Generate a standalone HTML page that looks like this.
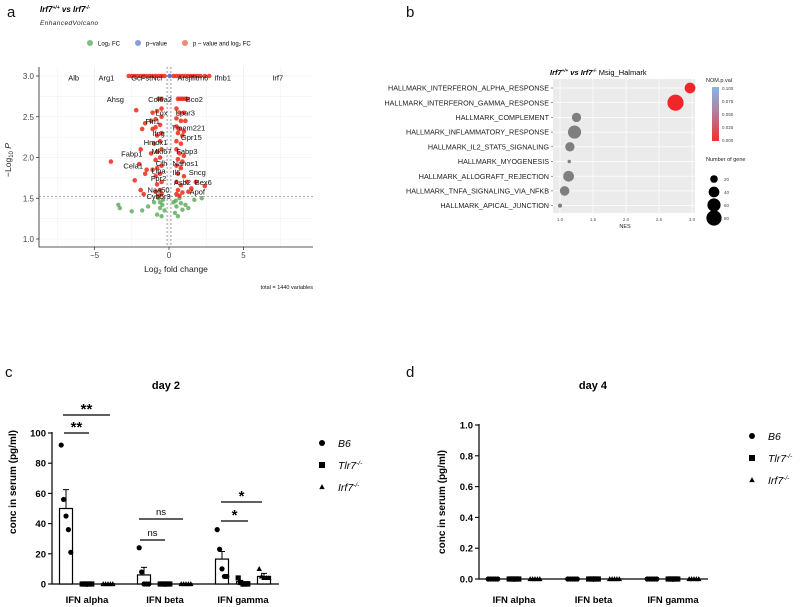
<!DOCTYPE html>
<html><head><meta charset="utf-8"><style>
html,body{margin:0;padding:0;background:#fff}
svg{display:block;font-family:"Liberation Sans",sans-serif}
</style></head><body>
<svg id="fig" width="800" height="607" viewBox="0 0 800 607">
<g id="pa"></g>
<g id="pb"></g>
<g id="pc"></g>
<g id="pd"></g>
</svg>
<script>
// ---------- Panel a data ----------
const volcRed = [
[-2.7,3],[-2.5,3],[-2.3,3],[-2.1,3],[-1.9,3],[-1.7,3],[-1.5,3],[-1.3,3],[-1.1,3],[-0.9,3],[-0.7,3],[-0.5,3],[-0.3,3],
[0.3,3],[0.5,3],[0.7,3],[0.9,3],[1.1,3],[1.3,3],[1.5,3],[1.7,3],[1.9,3],[2.1,3],[2.4,3],[2.7,3],
[0.6,2.72],[0.75,2.72],[0.9,2.72],[1.05,2.72],[1.2,2.72],[-0.5,2.72],[-0.7,2.72],
[-0.5,2.6],[-0.8,2.57],[-1.1,2.55],[0.5,2.6],[0.7,2.55],[1.0,2.55],
[-0.5,2.5],[-0.9,2.47],[-1.2,2.45],[0.5,2.48],[0.8,2.45],[1.1,2.45],
[-0.6,2.4],[-0.9,2.37],[-1.1,2.35],[0.5,2.38],[0.7,2.35],[1.0,2.32],
[-0.5,2.3],[-0.8,2.27],[0.6,2.3],[0.9,2.27],[-0.6,2.2],[-1.0,2.17],[0.5,2.2],[0.8,2.17],
[-0.5,2.1],[-0.8,2.07],[-1.2,2.05],[0.5,2.1],[0.7,2.05],[1.0,2.02],
[-0.6,2.0],[-0.9,1.97],[0.6,1.98],[0.9,1.95],[-0.5,1.9],[-0.8,1.87],[-1.1,1.85],[0.5,1.9],[0.8,1.87],
[-0.6,1.8],[-0.9,1.77],[0.6,1.8],[1.0,1.77],[-0.5,1.7],[-0.8,1.67],[0.5,1.7],[0.8,1.66],[1.2,1.7],
[-0.6,1.6],[-0.9,1.58],[0.6,1.6],[0.9,1.57],[-0.5,1.55],[0.5,1.55],[-0.7,1.53],[0.7,1.53],
[-2.2,2.58],[-1.6,2.42],[-1.8,2.35],[-1.9,2.1],[-3.9,1.95],[-2.0,1.92],[-1.5,1.85],[-1.6,1.8],
[-2.3,1.72],[-1.9,1.6],[-1.7,1.55],[2.4,1.65],[1.8,1.7],[1.5,1.62],[1.3,1.58]];
const volcGreen = [[-3.4,1.42],[-3.3,1.38],[-2.5,1.34],[-1.8,1.35],[-1.4,1.4],[-1.0,1.45],[-0.8,1.3],
[-0.6,1.38],[-0.4,1.48],[-0.3,1.35],[0.3,1.45],[0.4,1.32],[0.5,1.4],[0.7,1.5],[0.9,1.36],[1.1,1.42],
[1.3,1.38],[1.7,1.48],[2.2,1.5],[-0.7,1.5],[-0.5,1.28],[0.6,1.28],[-0.6,1.45],[0.45,1.47],[-0.45,1.42],[0.8,1.44]];
const volcBlue = [[0.05,3]];
const geneNames = ["Alb","Arg1","GcFstNcl","Arsjlfitm6","Ifnb1","Irf7","Ahsg","Col6a2","Bco2","Lox","Lpar3","Fln1","Tmem221","Ifng","Gpr15","Hmox1","Fabp1","Mki67","Fabp3","Cela1","Cfh","Nanos1","Lipa","Il6","Sncg","Fpr2","Asb2","Bex6","Naa50","Apof","Cyb5r3"];
const geneFC = [-6.4,-4.2,-1.5,1.6,3.6,7.3,-3.6,-0.6,1.7,-0.5,1.1,-1.1,1.3,-0.7,1.5,-0.9,-2.5,-0.5,1.2,-2.4,-0.5,1.1,-0.7,0.5,1.9,-0.7,0.9,2.3,-0.7,1.9,-0.7];
const geneP = [2.98,2.98,2.98,2.98,2.98,2.98,2.72,2.72,2.72,2.55,2.55,2.45,2.37,2.3,2.25,2.19,2.05,2.08,2.08,1.9,1.93,1.93,1.84,1.82,1.82,1.75,1.7,1.7,1.61,1.58,1.53];
const volcXTicks = [-5,0,5];
const volcYTicks = [1.0,1.5,2.0,2.5,3.0];

// ---------- Panel b data ----------
const gseaTerms = ["HALLMARK_INTERFERON_ALPHA_RESPONSE","HALLMARK_INTERFERON_GAMMA_RESPONSE","HALLMARK_COMPLEMENT","HALLMARK_INFLAMMATORY_RESPONSE","HALLMARK_IL2_STAT5_SIGNALING","HALLMARK_MYOGENESIS","HALLMARK_ALLOGRAFT_REJECTION","HALLMARK_TNFA_SIGNALING_VIA_NFKB","HALLMARK_APICAL_JUNCTION"];
const gseaNES = [2.97,2.75,1.25,1.22,1.15,1.14,1.13,1.07,1.0];
const gseaCount = [40,90,30,60,30,4,40,32,6];
const gseaPval = [0.0,0.0,null,null,null,null,null,null,null];
const nesTicks = [1.0,1.5,2.0,2.5,3.0];
const pvalTicks = ["0.100","0.075","0.050","0.025","0.000"];
const sizeTicks = [20,40,60,80];

// ---------- Panel c data ----------
const cats = ["IFN alpha","IFN beta","IFN gamma"];
const groups = ["B6","Tlr7","Irf7"];
const day2Means = [[50,0,0],[6,0,0],[16.5,1.5,5]];
const day2Err = [[12.5,0,0],[5,0,0],[5,0,2]];
const day2Pts = [
 [[92,56,45,36,21],[0,0,0,0,0],[0,0,0,0,0]],
 [[24,8,0,0,0],[0,0,0,0,0],[0,0,0,0,0]],
 [[36,23,10,5,5],[4,1,0,0,0],[10,5,4,4,4]]];
const day2Ticks = [0,20,40,60,80,100];
const day4Ticks = [0.0,0.2,0.4,0.6,0.8,1.0];
const day4Pts = [[[0,0,0,0,0],[0,0,0,0,0],[0,0,0,0,0]],[[0,0,0,0,0],[0,0,0,0,0],[0,0,0,0,0]],[[0,0,0,0,0],[0,0,0,0,0],[0,0,0,0,0]]];

const NS="http://www.w3.org/2000/svg";
function mk(parent,tag,attrs,txt){const e=document.createElementNS(NS,tag);for(const k in attrs)e.setAttribute(k,attrs[k]);if(txt!==undefined)e.textContent=txt;parent.appendChild(e);return e;}

// ===== Panel a =====
(function(){
const g=document.getElementById('pa');
const X=v=>169+v*14.9, Y=v=>76+(3-v)*81.5;
let t;
t=mk(g,'text',{x:7,y:17,'font-size':15,fill:'#111'},'a');
t=mk(g,'text',{x:40,y:12,'font-size':8,'font-weight':'bold','font-style':'italic'});
t.innerHTML='Irf7<tspan font-size="5" dy="-3">+/+</tspan><tspan dy="3"> vs Irf7</tspan><tspan font-size="5" dy="-3">-/-</tspan>';
t=mk(g,'text',{x:40,y:25,'font-size':6.5,'font-style':'italic',fill:'#222','letter-spacing':'0.4'},'EnhancedVolcano');
const leg=[[90,'#7fbf7f','Log₂ FC'],[138,'#8c9be0','p–value'],[185,'#ef8a72','p – value and log₂ FC']];
leg.forEach(l=>{let c=mk(g,'circle',{cx:l[0],cy:43,r:3,fill:l[1]});
let tt=mk(g,'text',{x:l[0]+8,y:45.5,'font-size':6},l[2]);});
for(let v=-7.5;v<=7.5;v+=2.5){let ln=mk(g,'line',{x1:X(v),x2:X(v),y1:67,y2:247,stroke:v%5===0?'#e4e4e4':'#f0f0f0','stroke-width':0.6});}
for(let v=1.0;v<=3.01;v+=0.25){let ln=mk(g,'line',{x1:39,x2:313,y1:Y(v),y2:Y(v),stroke:'#ececec','stroke-width':0.6});}
let ax=mk(g,'path',{d:'M39,67 V247 H313',fill:'none',stroke:'#222','stroke-width':0.8});
volcXTicks.forEach(v=>{mk(g,'line',{x1:X(v),x2:X(v),y1:247,y2:250,stroke:'#222','stroke-width':0.7});let tt=mk(g,'text',{x:X(v),y:258,'font-size':8,fill:'#444','text-anchor':'middle'},v<0?'−'+(-v):v);});
volcYTicks.forEach(v=>{mk(g,'line',{x1:36,x2:39,y1:Y(v),y2:Y(v),stroke:'#222','stroke-width':0.7});let tt=mk(g,'text',{x:34,y:Y(v)+3,'font-size':8,fill:'#444','text-anchor':'end'},v.toFixed(1));});
[-0.13,0.13].forEach(v=>{let ln=mk(g,'line',{x1:X(v),x2:X(v),y1:67,y2:247,stroke:'#555','stroke-width':0.6,'stroke-dasharray':'2,2'});});
let hl=mk(g,'line',{x1:39,x2:313,y1:Y(1.52),y2:Y(1.52),stroke:'#555','stroke-width':0.6,'stroke-dasharray':'2,2'});
volcGreen.forEach(p=>{let c=mk(g,'circle',{cx:X(p[0]),cy:Y(p[1]),r:2.2,fill:'#4ea24e','fill-opacity':0.75});});
volcRed.forEach(p=>{let c=mk(g,'circle',{cx:X(p[0]),cy:Y(p[1]),r:2.3,fill:'#f02818','fill-opacity':0.85});});
volcBlue.forEach(p=>{let c=mk(g,'circle',{cx:X(p[0]),cy:Y(p[1]),r:2.2,fill:'#5f72d6'});});
geneNames.forEach((n,i)=>{let tt=mk(g,'text',{x:X(geneFC[i]),y:Y(geneP[i])+3,'font-size':7.5,'text-anchor':'middle',fill:'#111'},n);});
t=mk(g,'text',{x:176,y:272,'font-size':8.5,'text-anchor':'middle',fill:'#222'});t.innerHTML='Log<tspan font-size="6" dy="2">2</tspan><tspan dy="-2"> fold change</tspan>';
t=mk(g,'text',{transform:'translate(11,160) rotate(-90)','font-size':8.5,'text-anchor':'middle',fill:'#222'});t.innerHTML='−Log<tspan font-size="6" dy="2">10</tspan><tspan dy="-2" font-style="italic"> P</tspan>';
t=mk(g,'text',{x:313,y:289,'font-size':5.5,'text-anchor':'end',fill:'#111'},'total = 1440 variables');
})();

// ===== Panel b =====
(function(){
const g=document.getElementById('pb');
const X=v=>560+(v-1)*66, rowY=i=>88+i*14.7;
const L=553,R=695,T=79,B=213;
let t=mk(g,'text',{x:406,y:17,'font-size':15,fill:'#111'},'b');
t=mk(g,'text',{x:550,y:75,'font-size':7.5});t.innerHTML='<tspan font-weight="bold" font-style="italic">Irf7<tspan font-size="4.5" dy="-3">+/+</tspan><tspan dy="3"> vs Irf7</tspan><tspan font-size="4.5" dy="-3">-/-</tspan></tspan><tspan dy="3">  Msig_Halmark</tspan>';
let bg=mk(g,'rect',{x:L,y:T,width:R-L,height:B-T,fill:'#ebebeb'});
nesTicks.forEach(v=>{let ln=mk(g,'line',{x1:X(v),x2:X(v),y1:T,y2:B,stroke:'#fff','stroke-width':0.7});
let tt=mk(g,'text',{x:X(v),y:221,'font-size':4.5,'text-anchor':'middle',fill:'#555'},v.toFixed(1));});
gseaTerms.forEach((n,i)=>{let ln=mk(g,'line',{x1:L,x2:R,y1:rowY(i),y2:rowY(i),stroke:'#fff','stroke-width':0.7});
let tt=mk(g,'text',{x:L-4,y:rowY(i)+2.6,'font-size':7.2,'text-anchor':'end',fill:'#222'},n);
mk(g,'line',{x1:L-2,x2:L,y1:rowY(i),y2:rowY(i),stroke:'#333','stroke-width':0.5});
const r=Math.sqrt(gseaCount[i])*0.85;
let c=mk(g,'circle',{cx:X(gseaNES[i]),cy:rowY(i),r:r,fill:gseaPval[i]===null?'#7f7f7f':'#f2262a'});});
t=mk(g,'text',{x:625,y:228,'font-size':5.5,'text-anchor':'middle',fill:'#222'},'NES');
const defs=mk(g,'defs',{});const lg=mk(defs,'linearGradient',{id:'pg',x1:0,y1:0,x2:0,y2:1});
mk(lg,'stop',{offset:'0','stop-color':'#86b4e6'});mk(lg,'stop',{offset:'0.5','stop-color':'#b57a96'});mk(lg,'stop',{offset:'1','stop-color':'#f82c2c'});
t=mk(g,'text',{x:706,y:82,'font-size':5.5,fill:'#222'},'NOM.p.val');
let cb=mk(g,'rect',{x:712,y:87,width:7,height:54,fill:'url(#pg)'});
pvalTicks.forEach((v,i)=>{let tt=mk(g,'text',{x:722,y:89+i*13+1,'font-size':4.5,fill:'#444'},v);});
t=mk(g,'text',{x:706,y:161,'font-size':5.5,fill:'#222'},'Number of gene');
sizeTicks.forEach((v,i)=>{let c=mk(g,'circle',{cx:714,cy:179+i*13,r:Math.sqrt(v)*0.85,fill:'#000'});
let tt=mk(g,'text',{x:724,y:181+i*13,'font-size':4.5,fill:'#444'},v);});
})();

// ===== Panels c & d =====
function marker(g,shape,x,y,s){let e;
 if(shape===0)e=mk(g,'circle',{cx:x,cy:y,r:s,fill:'#000'});
 else if(shape===1)e=mk(g,'rect',{x:x-s,y:y-s,width:2*s,height:2*s,fill:'#000'});
 else e=mk(g,'path',{d:`M${x},${y-s*1.1} L${x+s*1.05},${y+s*0.8} L${x-s*1.05},${y+s*0.8}Z`,fill:'#000'});
 return e;}
function barPanel(g,o){
 const Y=v=>o.y0-(v-o.tmin)/(o.tmax-o.tmin)*(o.y0-o.ytop);
 let t=mk(g,'text',{x:o.lx,y:377,'font-size':15,fill:'#111'},o.letter);
 t=mk(g,'text',{x:o.titleX,y:389,'font-size':11,'font-weight':'bold','text-anchor':'middle'},o.title);
 let ax=mk(g,'path',{d:`M${o.x0},${o.ytop-1} V${o.y0} H${o.x1}`,fill:'none',stroke:'#000','stroke-width':1.2});
 o.ticks.forEach(v=>{mk(g,'line',{x1:o.x0-4,x2:o.x0,y1:Y(v),y2:Y(v),stroke:'#000','stroke-width':1.1});
  let tt=mk(g,'text',{x:o.x0-6,y:Y(v)+3.5,'font-size':9.5,'font-weight':'bold','text-anchor':'end'},o.fmt(v));});
 cats.forEach((c,ci)=>{const cx=o.cx0+ci*o.gap;
  mk(g,'line',{x1:cx,x2:cx,y1:o.y0,y2:o.y0+3,stroke:'#000','stroke-width':1.1});
  let tt=mk(g,'text',{x:cx,y:603,'font-size':9.5,'font-weight':'bold','text-anchor':'middle'},c);
  groups.forEach((gr,gi)=>{const x=cx+(gi-1)*21;
   if(o.means){const m=o.means[ci][gi],e=o.err[ci][gi];
    if(m>0){let b=mk(g,'rect',{x:x-6.5,y:Y(m),width:13,height:o.y0-Y(m),fill:'#fff',stroke:'#000','stroke-width':1.2});}
    else{let b=mk(g,'line',{x1:x-6.5,x2:x+6.5,y1:o.y0,y2:o.y0,stroke:'#000','stroke-width':2});}
    if(e>0){let eb=mk(g,'path',{d:`M${x},${Y(m)} V${Y(m+e)} M${x-3},${Y(m+e)} H${x+3}`,stroke:'#000','stroke-width':1,fill:'none'});}
   }
   o.pts[ci][gi].forEach((v,k)=>{const jx=x+(k-2)*2.4;let p=marker(g,gi,jx,Y(v),2.6);});
  });});
 t=mk(g,'text',{transform:`translate(${o.ylx},${o.yly}) rotate(-90)`,'font-size':10,'font-weight':'bold','text-anchor':'middle'},'conc in serum (pg/ml)');
 const labs=[['B6',''],['Tlr7','-/-'],['Irf7','-/-']];
 labs.forEach((l,i)=>{let p=marker(g,i,o.legX,o.legY+i*22,i===2?2.6:3);
  let tt=mk(g,'text',{x:o.legX+16,y:o.legY+i*22+4,'font-size':10.5,'font-style':'italic'});tt.innerHTML=l[0]+(l[1]?'<tspan font-size="6.5" dy="-4">'+l[1]+'</tspan>':'');});
 return Y;}
(function(){
 const g=document.getElementById('pc');
 barPanel(g,{letter:'c',lx:5,title:'day 2',titleX:166,x0:52,x1:279,y0:584,ytop:433,tmin:0,tmax:100,ticks:day2Ticks,fmt:v=>v,cx0:87,gap:78,means:day2Means,err:day2Err,pts:day2Pts,ylx:16,yly:482,legX:322,legY:443});
 const sig=[[63,110,415,'**'],[64,89,433,'**'],[139,183,519,'ns'],[140,165,540,'ns'],[221,262,502,'*'],[221,248,521,'*']];
 sig.forEach(s=>{let ln=mk(g,'line',{x1:s[0],x2:s[1],y1:s[2],y2:s[2],stroke:'#000','stroke-width':1.3});
  const star=s[3]!=='ns';let tt=mk(g,'text',{x:(s[0]+s[1])/2,y:star?s[2]-1:s[2]-4,'font-size':star?15:9.5,'font-weight':star?'bold':'normal','text-anchor':'middle'},s[3]);
  });
})();
(function(){
 const g=document.getElementById('pd');
 barPanel(g,{letter:'d',lx:406,title:'day 4',titleX:593,x0:479,x1:708,y0:579,ytop:425,tmin:0,tmax:1,ticks:day4Ticks,fmt:v=>v.toFixed(1),cx0:514,gap:79.5,means:null,pts:day4Pts,ylx:445,yly:502,legX:752,legY:436});
})();
</script>
</body></html>
